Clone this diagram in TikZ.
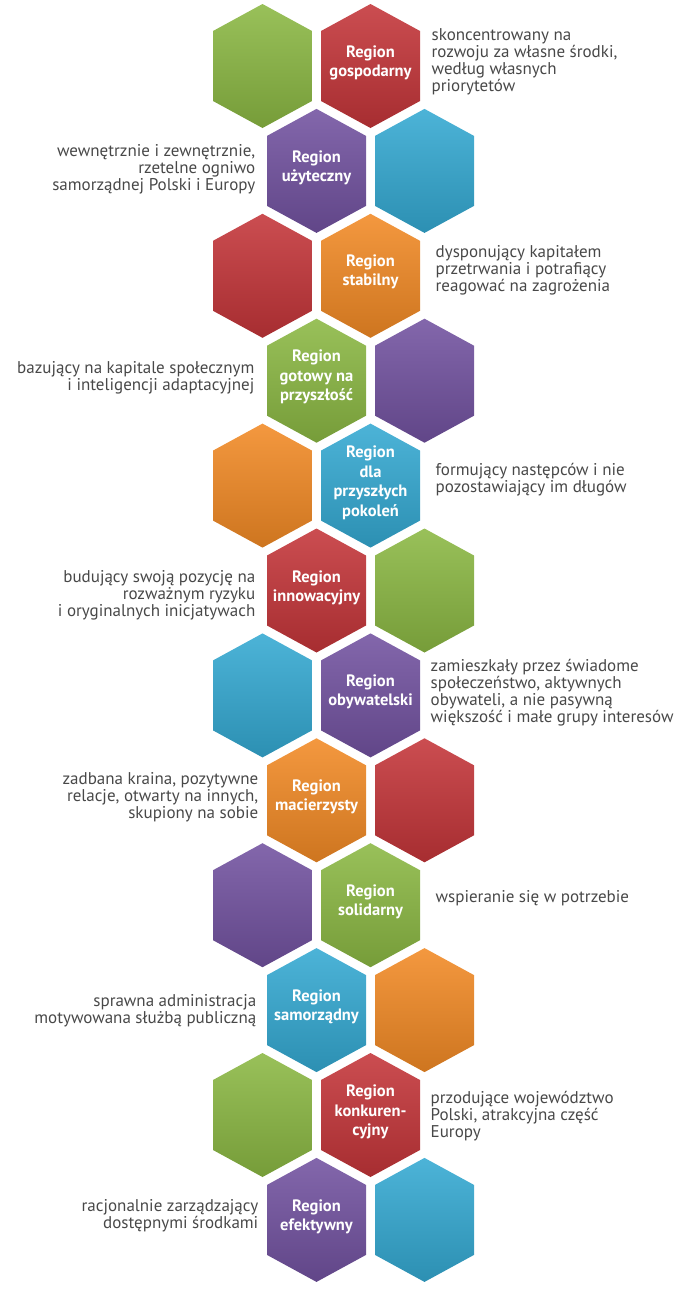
\documentclass[tikz,border=0pt]{standalone}
\usepackage{fontspec}
\setmainfont{PT Sans}
\usepackage{xcolor}
\usepackage{tikz}
\usetikzlibrary{positioning}

\definecolor{hgreen}{HTML}{8BB843}
\definecolor{hred}{HTML}{C43539}
\definecolor{hpurple}{HTML}{7252A0}
\definecolor{hcyan}{HTML}{34A9D2}
\definecolor{horange}{HTML}{F28A25}
\definecolor{textgray}{HTML}{484848}

\begin{document}
\begin{tikzpicture}[
    x=1pt, y=-1pt,
    cell/.style={top color=#1!88!white, bottom color=#1!85!black},
    title/.style={text=white, font=\fontsize{16.5}{19.5}\selectfont\bfseries,
                  align=center, inner sep=0pt},
    desc/.style={text=textgray, font=\fontsize{17}{17}\selectfont,
                 inner sep=0pt},
    descr/.style={desc, align=left},
    descl/.style={desc, align=right},
]
\useasboundingbox (0,0) rectangle (684,1293);

% honeycomb tiles
\foreach \x/\r/\col in {262.5/1/hgreen, 370.5/1/hred,
    316.5/2/hpurple, 424.5/2/hcyan, 262.5/3/hred, 370.5/3/horange,
    316.5/4/hgreen, 424.5/4/hpurple, 262.5/5/horange, 370.5/5/hcyan,
    316.5/6/hred, 424.5/6/hgreen, 262.5/7/hcyan, 370.5/7/hpurple,
    316.5/8/horange, 424.5/8/hred, 262.5/9/hpurple, 370.5/9/hgreen,
    316.5/10/hcyan, 424.5/10/horange, 262.5/11/hgreen, 370.5/11/hred,
    316.5/12/hpurple, 424.5/12/hcyan}
  \path[cell=\col] (\x,{66+104.9*(\r-1)})
    +(0,-62) -- +(49.5,-35) -- +(49.5,35) -- +(0,62)
    -- +(-49.5,35) -- +(-49.5,-35) -- cycle;

\node[title] (gosp) at (370.5,63) {Region\\gospodarny};
\node[title] (uzyt) at (316.5,168) {Region\\użyteczny};
\node[title] (stab) at (370.5,272) {Region\\stabilny};
\node[title] (gotow) at (316.5,377) {Region\\gotowy na\\przyszłość};
\node[title] (pokol) at (370.5,483) {Region\\dla\\przyszłych\\pokoleń};
\node[title] (innow) at (316.5,588) {Region\\innowacyjny};
\node[title] (obyw) at (370.5,692) {Region\\obywatelski};
\node[title] (macie) at (316.5,797) {Region\\macierzysty};
\node[title] (solid) at (370.5,902) {Region\\solidarny};
\node[title] (samor) at (316.5,1007) {Region\\samorządny};
\node[title] (konku) at (370.5,1112) {Region\\konkuren-\\cyjny};
\node[title] (efekt) at (316.5,1217) {Region\\efektywny};

\node[descr, right=61pt of gosp.center, yshift=1pt] (gospdesc)
  {skoncentrowany na\\rozwoju za własne środki,\\według własnych\\priorytetów};
\node[descl, left=61pt of uzyt.center, yshift=-1pt] (uzytdesc)
  {wewnętrznie i zewnętrznie,\\rzetelne ogniwo\\samorządnej Polski i Europy};
\node[descr, right=65pt of stab.center, yshift=2pt] (stabdesc)
  {dysponujący kapitałem\\przetrwania i potrafiący\\reagować na zagrożenia};
\node[descl, left=62pt of gotow.center, yshift=-1pt] (gotowdesc)
  {bazujący na kapitale społecznym\\i inteligencji adaptacyjnej};
\node[descr, right=65pt of pokol.center, yshift=3pt] (pokoldesc)
  {formujący następców i nie\\pozostawiający im długów};
\node[descl, left=61pt of innow.center, yshift=-7pt] (innowdesc)
  {budujący swoją pozycję na\\rozważnym ryzyku\\i oryginalnych inicjatywach};
\node[descr, right=60pt of obyw.center, yshift=-1pt] (obywdesc)
  {zamieszkały przez świadome\\społeczeństwo, aktywnych\\obywateli, a nie pasywną\\większość i małe grupy interesów};
\node[descl, left=58pt of macie.center] (maciedesc)
  {zadbana kraina, pozytywne\\relacje, otwarty na innych,\\skupiony na sobie};
\node[descr, right=65pt of solid.center, yshift=4pt] (soliddesc)
  {wspieranie się w potrzebie};
\node[descl, left=60pt of samor.center, yshift=-4pt] (samordesc)
  {sprawna administracja\\motywowana służbą publiczną};
\node[descr, right=60pt of konku.center, yshift=-4pt] (konkudesc)
  {przodujące województwo\\Polski, atrakcyjna część\\Europy};
\node[descl, left=58pt of efekt.center, yshift=1pt] (efektdesc)
  {racjonalnie zarządzający\\dostępnymi środkami};
\end{tikzpicture}
\end{document}
